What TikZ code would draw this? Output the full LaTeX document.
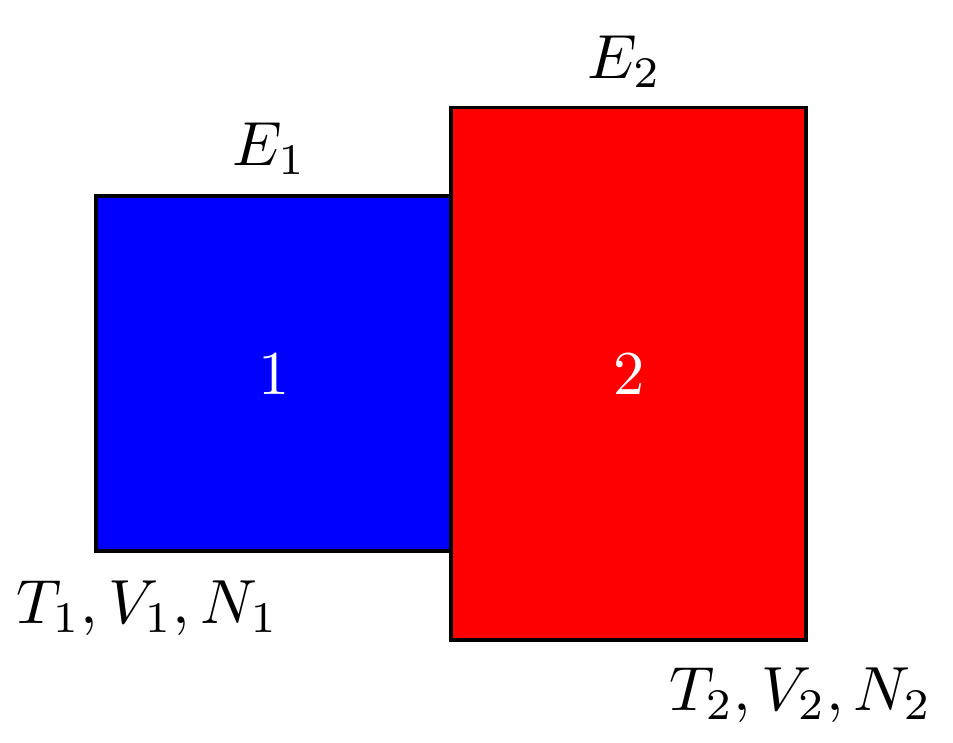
\documentclass[tikz,border=0pt]{standalone}
\begin{document}
\begin{tikzpicture}[
  box/.style={draw=black, line width=0.6pt},
  lbl/.style={inner sep=0pt, text=white},
  mlbl/.style={inner sep=0pt}
]
\useasboundingbox (-0.531,-1.065) rectangle (4.838,3.116);
\node[box, fill=blue, minimum width=2cm, minimum height=2cm, anchor=south west, inner sep=0pt] (b1) at (0,0) {};
\node[box, fill=red, minimum width=2cm, minimum height=3cm, anchor=south west, inner sep=0pt] (b2) at (2,-0.5) {};
\node[lbl] (n1) at (b1.center) {1};
\node[lbl] (n2) at (b2.center) {2};
\node[mlbl] (e1) at (0.986,2.28) {$E_1$};
\node[mlbl] (e2) at (2.986,2.77) {$E_2$};
\node[mlbl] (s1) at (0.30,-0.31) {$T_1, V_1, N_1$};
\node[mlbl] (s2) at (3.98,-0.80) {$T_2, V_2, N_2$};
\end{tikzpicture}
\end{document}
